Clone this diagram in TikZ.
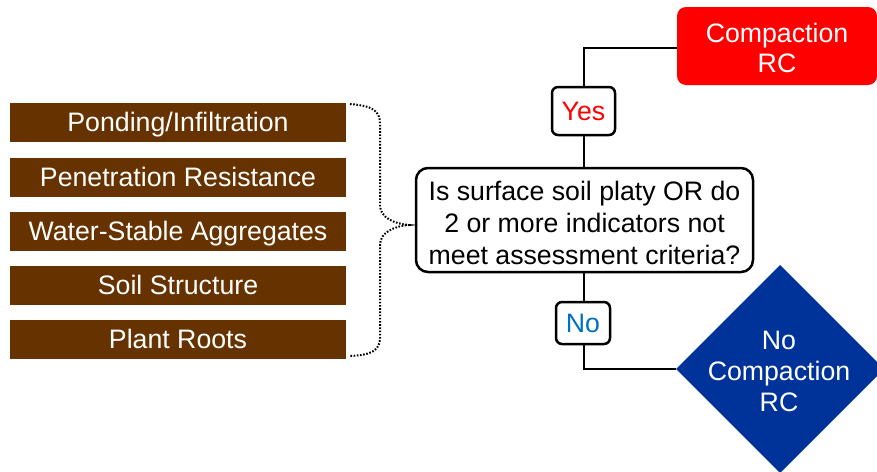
\documentclass[tikz,border=0pt]{standalone}
\usepackage{fontspec}
\setmainfont{Liberation Sans}
\definecolor{soilbrown}{RGB}{102,51,0}
\definecolor{rcred}{RGB}{255,0,0}
\definecolor{rcblue}{RGB}{0,51,153}
\definecolor{nocol}{RGB}{0,112,192}
\begin{document}
\begin{tikzpicture}[x=1pt,y=-1pt,
  every node/.style={font=\fontsize{26.7}{32}\selectfont, inner sep=0pt, outer sep=0pt},
  oneline/.style={text height=24.2pt, text depth=5.7pt},
  indbox/.style={oneline, fill=soilbrown, text=white, minimum width=336, minimum height=39},
  qbox/.style={draw=black, line width=2.5pt, rounded corners=12pt, fill=white, minimum width=337, minimum height=104},
  tagbox/.style={oneline, draw=black, line width=2.5pt, rounded corners=6pt, fill=white},
  conn/.style={draw=black, line width=2.5pt},
  brace/.style={draw=black, line width=2pt, dash pattern=on 1.6pt off 1.6pt}
]
\useasboundingbox (0,0) rectangle (877,471);
\clip (0,0) rectangle (877,471);
\fill[white] (0,0) rectangle (877,471);

% indicator boxes
\node[indbox] (i1) at (178,122.5) {Ponding/Infiltration};
\node[indbox] (i2) at (178,177) {Penetration Resistance};
\node[indbox] (i3) at (178,231.5) {Water-Stable Aggregates};
\node[indbox] (i4) at (178,285) {Soil Structure};
\node[indbox] (i5) at (178,339) {Plant Roots};

% question
\node[qbox] (q) at (584.5,220) {};
\node[align=center] (qt) at (584.5,223) {Is surface soil platy OR do\\2 or more indicators not\\meet assessment criteria?};

% outcomes
\node[fill=rcred, rounded corners=9pt, minimum width=200, minimum height=78] (rc) at (777,46) {};
\node[text=white, align=center, font=\fontsize{26.7}{30}\selectfont] (rct) at (777,47.5) {Compaction\\RC};
\coordinate (dc) at (780,369);
\coordinate (dw) at (676,369);
\fill[rcblue] (dw) -- (780,265) -- (884,369) -- (780,473) -- cycle;
\node[text=white, align=center, font=\fontsize{26.7}{31}\selectfont] (norc) at (779,371) {No\\Compaction\\RC};

% tags
\node[tagbox, minimum width=63, minimum height=48, text=rcred] (yes) at (583.5,111) {Yes};
\node[tagbox, minimum width=54, minimum height=42, text=nocol] (no) at (583,323) {No};

% connectors
\coordinate (c1) at (584,48);
\coordinate (c2) at (584,369);
\draw[conn] (rc.west |- c1) -- (c1) -- (yes.north -| c1);
\draw[conn] (yes.south -| c1) -- (q.north -| c1);
\draw[conn] (q.south -| c1) -- (no.north -| c1);
\draw[conn] (no.south -| c1) -- (c2) -- (dw);

% dotted brace
\coordinate (tip) at (409,225);
\draw[brace] (350,104) .. controls (372,106) and (380,110) .. (380,124)
  -- (380,205) .. controls (380,218) and (395,224) .. (tip)
  .. controls (395,226) and (380,232) .. (380,245)
  -- (380,338) .. controls (380,350) and (372,355) .. (350,356);
\end{tikzpicture}
\end{document}
